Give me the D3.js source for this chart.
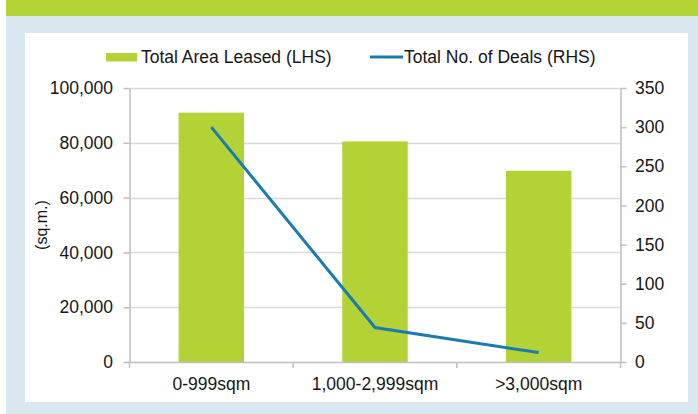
<!DOCTYPE html>
<html>
<head>
<meta charset="utf-8">
<script src="https://cdn.jsdelivr.net/npm/d3@7"></script>
<style>
  html, body { margin: 0; padding: 0; background: #ffffff; }
  svg { display: block; }
  text { font-family: "Liberation Sans", Arial, sans-serif; fill: #161616; }
</style>
</head>
<body>
<svg id="chart" width="698" height="414"></svg>
<script>
// Leasing by deal size
const categories = ["0-999sqm", "1,000-2,999sqm", ">3,000sqm"];
const areaLeased = [91000, 80500, 69800];   // sq.m. (left axis)
const dealCount = [300, 44, 12];            // number of deals (right axis)
const areaTicks = [0, 20000, 40000, 60000, 80000, 100000];
const dealTicks = [0, 50, 100, 150, 200, 250, 300, 350];
const seriesNames = ["Total Area Leased (LHS)", "Total No. of Deals (RHS)"];

const colors = {
  header: "#b4d334",
  frame: "#dae9f0",
  bar: "#b3d235",
  line: "#1a7ab2",
  grid: "#d9d9d9",
  axis: "#bfbfbf"
};
const fontSize = "17.5px";

const svg = d3.select("#chart");

// Frame: green header strip, light blue surround, white panel
svg.append("rect").attr("x", 6).attr("y", 0).attr("width", 692).attr("height", 16).attr("fill", colors.header);
svg.append("rect").attr("x", 6).attr("y", 16).attr("width", 692).attr("height", 398).attr("fill", colors.frame);
svg.append("rect").attr("x", 25).attr("y", 33).attr("width", 663).attr("height", 369).attr("fill", "#ffffff");

const plot = { left: 129.5, right: 620.5, top: 88, bottom: 362 };

const x = d3.scaleBand().domain(categories)
  .range([plot.left, plot.right]).paddingInner(0.6).paddingOuter(0.3);
const yL = d3.scaleLinear().domain([0, 100000]).range([plot.bottom, plot.top]);
const yR = d3.scaleLinear().domain([0, 350]).range([plot.bottom, plot.top]);

// Horizontal gridlines
svg.append("g").selectAll("line").data(areaTicks.slice(1)).join("line")
  .attr("x1", plot.left).attr("x2", plot.right)
  .attr("y1", d => Math.round(yL(d)) + 0.5).attr("y2", d => Math.round(yL(d)) + 0.5)
  .attr("stroke", colors.grid).attr("stroke-width", 1.5);

// Bars
svg.append("g").selectAll("rect").data(categories).join("rect")
  .attr("x", d => x(d)).attr("width", x.bandwidth())
  .attr("y", (d, i) => yL(areaLeased[i]))
  .attr("height", (d, i) => yL(0) - yL(areaLeased[i]))
  .attr("fill", colors.bar);

// Left axis
const axL = svg.append("g").attr("transform", `translate(${plot.left},0)`)
  .call(d3.axisLeft(yL).tickValues(areaTicks).tickFormat(d3.format(",")).tickSizeInner(6).tickSizeOuter(0).tickPadding(10.5));
// Right axis
const axR = svg.append("g").attr("transform", `translate(${plot.right},0)`)
  .call(d3.axisRight(yR).tickValues(dealTicks).tickSizeInner(6).tickSizeOuter(0).tickPadding(8.5));
// Bottom axis (labels at band centres)
const axB = svg.append("g").attr("transform", `translate(0,${plot.bottom})`)
  .call(d3.axisBottom(x).tickSize(0).tickSizeOuter(0).tickPadding(16));

[axL, axR, axB].forEach(g => {
  g.selectAll(".domain").attr("stroke", colors.axis).attr("stroke-width", 1.5);
  g.selectAll(".tick line").attr("stroke", colors.axis).attr("stroke-width", 1.5);
  g.selectAll("text").style("font-size", fontSize).attr("fill", "#161616");
});

// Category boundary ticks on the bottom axis
const bounds = d3.range(categories.length + 1).map(i => plot.left + i * x.step());
svg.append("g").selectAll("line").data(bounds).join("line")
  .attr("x1", d => d).attr("x2", d => d)
  .attr("y1", plot.bottom).attr("y2", plot.bottom + 6)
  .attr("stroke", colors.axis).attr("stroke-width", 1.5);

// Deals line
const line = d3.line()
  .x((d, i) => x(categories[i]) + x.bandwidth() / 2)
  .y(d => yR(d));
svg.append("path").datum(dealCount).attr("d", line)
  .attr("fill", "none").attr("stroke", colors.line).attr("stroke-width", 3)
  .attr("stroke-linejoin", "miter");

// Y axis title
svg.append("text").attr("transform", `translate(41,${(plot.top + plot.bottom) / 2}) rotate(-90)`)
  .attr("text-anchor", "middle").attr("dominant-baseline", "central")
  .style("font-size", "16px").text("(sq.m.)");

// Legend
const legend = svg.append("g");
legend.append("rect").attr("x", 106).attr("y", 53).attr("width", 31).attr("height", 8.5).attr("fill", colors.bar);
legend.append("text").attr("x", 141).attr("y", 63).style("font-size", fontSize).text(seriesNames[0]);
legend.append("line").attr("x1", 370).attr("x2", 403).attr("y1", 57).attr("y2", 57)
  .attr("stroke", colors.line).attr("stroke-width", 3);
legend.append("text").attr("x", 404).attr("y", 63).style("font-size", fontSize).text(seriesNames[1]);
</script>
</body>
</html>
